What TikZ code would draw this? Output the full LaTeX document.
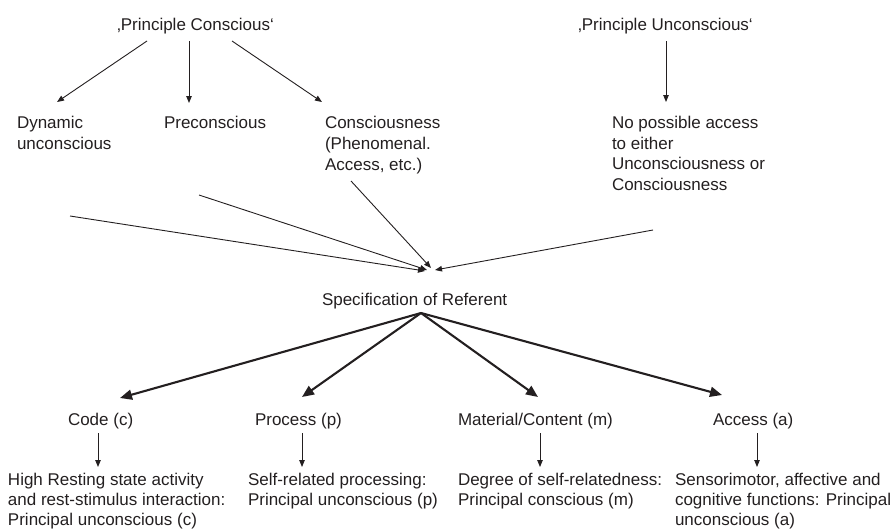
\documentclass[tikz,border=0pt]{standalone}
\usepackage{fontspec}
\setmainfont{Liberation Sans}
\usetikzlibrary{arrows.meta,calc}
\definecolor{ink}{RGB}{35,31,32}
\begin{document}
\begin{tikzpicture}[x=1pt,y=-1pt,
  every node/.style={inner sep=0pt, outer sep=0pt, font=\fontsize{17}{20.7}\selectfont, text=ink, align=left},
  bottomtext/.style={font=\fontsize{17}{20.3}\selectfont},
  thinarrow/.style={draw=ink, line width=0.9pt, -{Triangle[length=7pt,width=5.5pt]}},
  thickarrow/.style={draw=ink, line width=2.1pt, -{Triangle[length=12pt,width=10pt]}},
  convline/.style={draw=ink, line width=0.9pt, -{Triangle[length=7pt,width=5.5pt]}}]
\useasboundingbox (0,0) rectangle (894,530);

% top labels
\node[anchor=base west] (pc) at (117,30) {‚Principle Conscious‘};
\node[anchor=base west] (pu) at (578,30) {‚Principle Unconscious‘};

\node[anchor=north west] (dyn) at (17,116.6) {Dynamic\\unconscious};
\node[anchor=north west] (pre) at (164,116.6) {Preconscious};
\node[anchor=north west] (con) at (325,116.6) {Consciousness\\(Phenomenal.\\Access, etc.)};
\node[anchor=north west] (nop) at (612,116) {No possible access\\to either\\Unconsciousness or\\Consciousness};

\node[anchor=base west] (spec) at (322,305) {Specification of Referent};

\node[anchor=base west] (code) at (68,425) {Code (c)};
\node[anchor=base west] (proc) at (255,425) {Process (p)};
\node[anchor=base west] (mat) at (458,425) {Material/Content (m)};
\node[anchor=base west] (acc) at (713,425) {Access (a)};

\node[anchor=north west, bottomtext] (codeD) at (8,473) {High Resting state activity\\and rest-stimulus interaction:\\Principal unconscious (c)};
\node[anchor=north west, bottomtext] (procD) at (248,473) {Self-related processing:\\Principal unconscious (p)};
\node[anchor=north west, bottomtext] (matD) at (458,473) {Degree of self-relatedness:\\Principal conscious (m)};
\node[anchor=north west, bottomtext] (accD) at (675,473) {Sensorimotor, affective and\\cognitive functions: Principal\\unconscious (a)};

% free starts of the converging lines
\coordinate (l1) at (70,216);
\coordinate (l2) at (199,195);

% top arrows
\draw[thinarrow] ($(pc.base west)+(30,11)$) -- ($(dyn.north west)+(40,-14.6)$);
\draw[thinarrow] ($(pc.base west)+(72,11)$) -- ($(pre.north west)+(25,-13.6)$);
\draw[thinarrow] ($(pc.base west)+(115,11)$) -- ($(con.north west)+(-3,-14.6)$);
\draw[thinarrow] ($(pu.base west)+(88,11)$) -- ($(nop.north west)+(54,-14)$);

% converging lines
\draw[convline] (l1) -- ($(spec.base west)+(103,-34)$);
\draw[convline] (l2) -- ($(spec.base west)+(105,-35)$);
\draw[convline] ($(con.north west)+(26,64.4)$) -- ($(spec.base west)+(109,-37)$);
\draw[convline] ($(nop.north west)+(41,114)$) -- ($(spec.base west)+(113,-35)$);

% fan out
\coordinate (apex) at ($(spec.base west)+(99,8)$);
\draw[thickarrow] (apex) -- ($(code.base west)+(52,-27)$);
\draw[thickarrow] (apex) -- ($(proc.base west)+(47,-28)$);
\draw[thickarrow] (apex) -- ($(mat.base west)+(80,-28)$);
\draw[thickarrow] (apex) -- ($(acc.base west)+(9,-30)$);

% small down arrows
\draw[thinarrow] ($(code.base west)+(30,8)$) -- ($(codeD.north west)+(90,-6)$);
\draw[thinarrow] ($(proc.base west)+(47,8)$) -- ($(procD.north west)+(54,-6)$);
\draw[thinarrow] ($(mat.base west)+(82,8)$) -- ($(matD.north west)+(82,-6)$);
\draw[thinarrow] ($(acc.base west)+(44,8)$) -- ($(accD.north west)+(82,-6)$);
\end{tikzpicture}
\end{document}
